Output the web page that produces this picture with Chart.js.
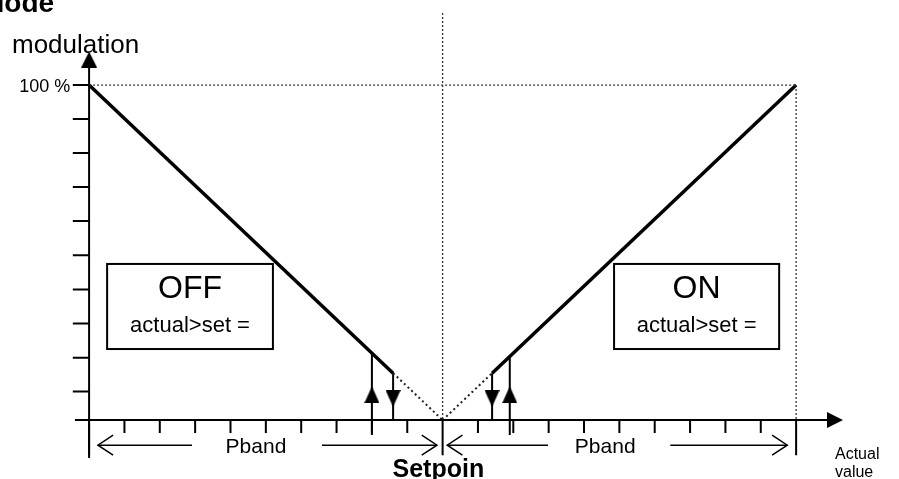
<!DOCTYPE html>
<html>
<head>
<meta charset="utf-8">
<script src="https://cdn.jsdelivr.net/npm/chart.js@4.4.1/dist/chart.umd.min.js"></script>
<style>
  html, body { margin: 0; padding: 0; background: #fff; }
  canvas { display: block; }
</style>
</head>
<body>
<canvas id="chart" width="899" height="479"></canvas>
<script>
// Regulation curve: x = deviation from setpoint in % of Pband, y = modulation in %
const offCurve = [{x: -100, y: 100}, {x: -14, y: 14}];
const onCurve = [{x: 14, y: 14}, {x: 100, y: 100}];
const offDeadband = [{x: -14, y: 14}, {x: 0, y: 0}];
const onDeadband = [{x: 0, y: 0}, {x: 14, y: 14}];

// Axis ticks
const yTickValues = [8.5, 18.6, 28.8, 39, 49.2, 59.4, 69.6, 79.7, 89.9, 100];
const xTickValues = [-90, -80, -70, -60, -50, -40, -30, -20, -10, 10, 20, 30, 40, 50, 60, 70, 80, 90];
const bandEnds = [-100, 0, 100];

// Hysteresis switching arrows
const upArrows = [{x: -20, top: 20}, {x: 19, top: 19}];
const downArrows = [{x: -14, top: 14}, {x: 14, top: 14}];

// Pband dimension arrows (x from, x to)
const pbandLeft = [[-97.5, -70.9], [-34.1, -1.6]];
const pbandRight = [[1.3, 29.8], [64.4, 97.5]];
const pbandLabelX = [-52.8, 46];

const FONT = "'Liberation Sans', Arial, sans-serif";

// helper: list of [a, b] point pairs -> one polyline with gaps
function segments(pairs) {
    const out = [];
    pairs.forEach(p => { out.push(p[0], p[1], {x: p[1].x, y: null}); });
    return out;
}

function arrowHead(w, h) {
    const c = document.createElement('canvas');
    c.width = w; c.height = h;
    const g = c.getContext('2d');
    g.fillStyle = '#000';
    g.beginPath();
    g.moveTo(w / 2, 0); g.lineTo(w, h); g.lineTo(0, h);
    g.closePath(); g.fill();
    return c;
}
const smallHead = arrowHead(15, 17);
const axisHead = arrowHead(16, 16);

const bandY = -7.5;
function chevron(tipX, dir) {
    // dir = -1 opens to the right ("<"), +1 opens to the left (">")
    return [{x: tipX - dir * 4.3, y: bandY + 3}, {x: tipX, y: bandY}, {x: tipX - dir * 4.3, y: bandY - 3}, {x: tipX, y: null}];
}

const line = (data, extra) => Object.assign({
    data, showLine: true, borderColor: '#000', borderWidth: 2,
    pointRadius: 0, clip: false, spanGaps: false
}, extra);

const datasets = [
    // axes
    line([{x: -100, y: -11.3}, {x: -100, y: 106}]),
    line([{x: -104, y: 0}, {x: 110, y: 0}]),
    line(segments(yTickValues.map(v => [{x: -104.6, y: v}, {x: -100, y: v}]))),
    line(segments(xTickValues.map(v => [{x: v, y: 0}, {x: v, y: -3.9}]))),
    line(segments(bandEnds.map(v => [{x: v, y: 0}, {x: v, y: -10.5}]))),
    // dotted guides
    line(segments([
        [{x: -100, y: 100}, {x: 100, y: 100}],
        [{x: 100, y: 100}, {x: 100, y: 0}],
        [{x: 0, y: 121.5}, {x: 0, y: 0}]
    ]), {borderWidth: 1.3, borderColor: '#333', borderDash: [2, 2]}),
    // regulation curve
    line(offCurve, {borderWidth: 3.5}),
    line(onCurve, {borderWidth: 3.5}),
    line(offDeadband, {borderWidth: 2, borderDash: [2, 3], borderColor: '#222'}),
    line(onDeadband, {borderWidth: 2, borderDash: [2, 3], borderColor: '#222'}),
    // hysteresis arrows
    line(segments(upArrows.map(a => [{x: a.x, y: -4.5}, {x: a.x, y: a.top}]))),
    line(segments(downArrows.map(a => [{x: a.x, y: a.top}, {x: a.x, y: 0}]))),
    {data: upArrows.map(a => ({x: a.x, y: 7.6})), showLine: false, pointStyle: smallHead, pointRadius: 5, pointRotation: 0, clip: false},
    {data: downArrows.map(a => ({x: a.x, y: 6.4})), showLine: false, pointStyle: smallHead, pointRadius: 5, pointRotation: 180, clip: false},
    // axis arrow heads
    {data: [{x: -100, y: 107.6}], showLine: false, pointStyle: axisHead, pointRadius: 5, pointRotation: 0, clip: false},
    {data: [{x: 111, y: 0}], showLine: false, pointStyle: axisHead, pointRadius: 5, pointRotation: 90, clip: false},
    // Pband dimension arrows
    line(segments(pbandLeft.concat(pbandRight).map(s => [{x: s[0], y: bandY}, {x: s[1], y: bandY}])), {borderWidth: 1.5}),
    line([].concat(chevron(pbandLeft[0][0], -1), chevron(pbandLeft[1][1], 1),
                   chevron(pbandRight[0][0], -1), chevron(pbandRight[1][1], 1)), {borderWidth: 1.5})
];

// texts and state boxes
const annotations = {
    id: 'annotations',
    afterDatasetsDraw(chart) {
        const {ctx, scales: {x, y}} = chart;
        const px = v => x.getPixelForValue(v);
        const py = v => y.getPixelForValue(v);
        ctx.save();
        ctx.fillStyle = '#000';
        ctx.strokeStyle = '#000';

        // state boxes
        ctx.lineWidth = 2;
        [[-94.9, -48, 'OFF'], [48.5, 95.2, 'ON']].forEach(b => {
            const l = px(b[0]), r = px(b[1]), t = py(46.6), btm = py(21.2);
            ctx.strokeRect(l, t, r - l, btm - t);
            ctx.textAlign = 'center';
            ctx.textBaseline = 'alphabetic';
            ctx.font = '32px ' + FONT;
            ctx.fillText(b[2], (l + r) / 2, py(36.4));
            ctx.font = '22px ' + FONT;
            ctx.fillText('actual>set =', (l + r) / 2, py(26.3));
        });

        // Pband labels
        ctx.font = '21px ' + FONT;
        ctx.textAlign = 'center';
        pbandLabelX.forEach(v => ctx.fillText('Pband', px(v), py(bandY) + 7.5));

        // Setpoint
        ctx.font = 'bold 25px ' + FONT;
        ctx.fillText('Setpoin', px(-1.2), 477);

        // axis titles
        ctx.textAlign = 'left';
        ctx.font = '26px ' + FONT;
        ctx.fillText('modulation', 12, 53);
        ctx.font = '16px ' + FONT;
        ctx.fillText('Actual', 835, 459);
        ctx.fillText('value', 835, 477);
        ctx.textAlign = 'right';
        ctx.font = '18px ' + FONT;
        ctx.fillText('100 %', px(-105.3), py(100) + 7);

        // cut-off heading
        ctx.textAlign = 'left';
        ctx.font = 'bold 28px ' + FONT;
        ctx.fillText('Mode', -19, 12);
        ctx.restore();
    }
};

new Chart(document.getElementById('chart'), {
    type: 'scatter',
    data: {datasets},
    options: {
        responsive: false,
        animation: false,
        events: [],
        layout: {padding: 0, autoPadding: false},
        plugins: {legend: {display: false}, tooltip: {enabled: false}},
        elements: {point: {radius: 0}, line: {tension: 0}},
        scales: {
            x: {type: 'linear', display: false, min: -125.2, max: 129.1},
            y: {type: 'linear', display: false, min: -17.6, max: 125.4}
        }
    },
    plugins: [annotations]
});
</script>
</body>
</html>
